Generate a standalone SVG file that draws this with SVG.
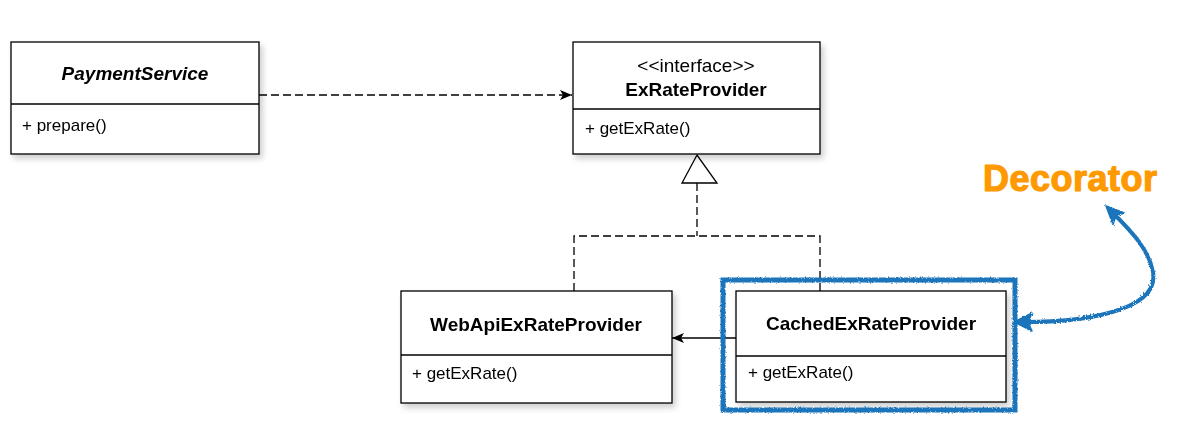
<svg xmlns="http://www.w3.org/2000/svg" width="1179" height="431" viewBox="0 0 1179 431">
<style>
.box{fill:#fff;stroke:#000;stroke-width:1.3}
.div{stroke:#000;stroke-width:1.3}
.title{font-family:"Liberation Sans",Arial,sans-serif;font-size:19px;font-weight:bold;text-anchor:middle;fill:#000}
.mem{font-family:"Liberation Sans",Arial,sans-serif;font-size:17px;fill:#000}
.stereo{font-family:"Liberation Sans",Arial,sans-serif;font-size:19px;text-anchor:middle;fill:#000}
.dash{fill:none;stroke:#000;stroke-width:1.3;stroke-dasharray:8 4}
.line{fill:none;stroke:#000;stroke-width:1.3}
.sketch{fill:none;stroke:#1a75bb;stroke-width:5}
.bhead{fill:#1a75bb;stroke:#1a75bb;stroke-width:1.5;stroke-linejoin:round}
.deco{font-family:"Liberation Sans",Arial,sans-serif;font-weight:bold;font-size:36px;letter-spacing:0.5px;fill:#ff9900;stroke:#ff9900;stroke-width:1.2;stroke-linejoin:round}
</style>
<defs>
<filter id="sh" x="-10%" y="-10%" width="130%" height="140%">
<feGaussianBlur in="SourceAlpha" stdDeviation="3"/>
<feOffset dx="3" dy="4" result="b"/>
<feComponentTransfer><feFuncA type="linear" slope="0.2"/></feComponentTransfer>
<feMerge><feMergeNode/><feMergeNode in="SourceGraphic"/></feMerge>
</filter>
<filter id="rough" x="-5%" y="-5%" width="110%" height="110%">
<feTurbulence type="fractalNoise" baseFrequency="0.6" numOctaves="2" result="n"/>
<feDisplacementMap in="SourceGraphic" in2="n" scale="3"/>
</filter>
<marker id="classic" viewBox="0 0 12 10" refX="12" refY="5" markerWidth="12" markerHeight="10" markerUnits="userSpaceOnUse" orient="auto">
<path d="M0,0 L12,5 L0,10 L3,5 z" fill="#000"/>
</marker>
</defs>
<rect width="1179" height="431" fill="#fff"/>

<g id="connectors">
<path class="dash" d="M259,95 L572,95" marker-end="url(#classic)"/>
<path class="dash" d="M697,183 L697,236 M574,291 L574,236 L820,236 L820,291"/>
<polygon points="697,155 682,183 717,183" fill="#fff" stroke="#000" stroke-width="1.3"/>
<path class="line" d="M736,338 L672,338" marker-end="url(#classic)"/>
</g>

<g id="PaymentService" filter="url(#sh)">
<rect class="box" x="11" y="42" width="248" height="112"/>
<line class="div" x1="11" y1="104" x2="259" y2="104"/>
<text class="title" x="135" y="80" font-style="italic">PaymentService</text>
<text class="mem" x="22" y="131">+ prepare()</text>
</g>

<g id="ExRateProvider" filter="url(#sh)">
<rect class="box" x="573" y="42" width="247" height="112"/>
<line class="div" x1="573" y1="109" x2="820" y2="109"/>
<text class="stereo" x="696" y="72">&lt;&lt;interface&gt;&gt;</text>
<text class="title" x="696" y="96">ExRateProvider</text>
<text class="mem" x="585" y="134">+ getExRate()</text>
</g>

<g id="WebApiExRateProvider" filter="url(#sh)">
<rect class="box" x="401" y="291" width="271" height="112"/>
<line class="div" x1="401" y1="355" x2="672" y2="355"/>
<text class="title" x="536" y="331">WebApiExRateProvider</text>
<text class="mem" x="412" y="379">+ getExRate()</text>
</g>

<g id="CachedExRateProvider" filter="url(#sh)">
<rect class="box" x="736" y="291" width="270" height="111"/>
<line class="div" x1="736" y1="356" x2="1006" y2="356"/>
<text class="title" x="871" y="330">CachedExRateProvider</text>
<text class="mem" x="748" y="378">+ getExRate()</text>
</g>

<g id="Decorator">
<rect class="sketch" x="723" y="280" width="292" height="130" filter="url(#rough)"/>
<g filter="url(#rough)">
<path class="sketch" style="stroke-width:4" d="M1026,322 C1080,322 1160,312 1153,272 C1149,250 1132,232 1115,215"/>
<polygon class="bhead" points="1014,322 1032,313 1028,322 1032,331"/>
<polygon class="bhead" points="1106,206 1124.4,213 1115.9,215.9 1113,224.4"/>
</g>
<text class="deco" x="983" y="191">Decorator</text>
</g>
</svg>
